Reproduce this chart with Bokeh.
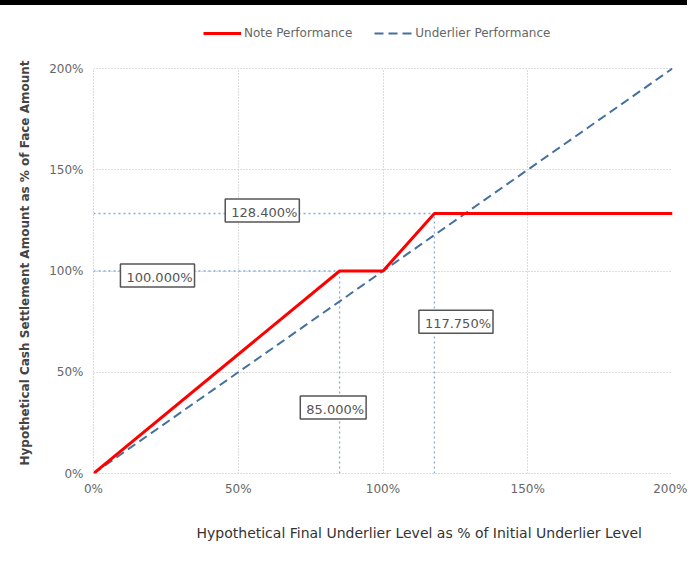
from bokeh.plotting import figure
from bokeh.layouts import column
from bokeh.models import (Label, Legend, LegendItem, FixedTicker, PrintfTickFormatter, Title, Div)
from bokeh.embed import file_html
from bokeh.resources import INLINE

# ---- data ----
note_x = [0, 85, 100, 117.75, 200]
note_y = [0, 100, 100, 128.4, 128.4]
under_x = [0, 200]
under_y = [0, 200]
ref_x = [85, 117.75]          # underlier levels marked
ref_y = [100, 128.4]          # note levels marked
x_ticks = [0, 50, 100, 150, 200]
y_ticks = [0, 50, 100, 150, 200]
series_names = ["Note Performance", "Underlier Performance"]

FONT = "DejaVu Sans"
GRID = "#b8b8b8"
REF = "#86acd9"
RED = "#ff0000"
BLUE = "#46709e"
W = 687
H = 559

# layout geometry (pixels inside the figure)
FRAME_TOP = 8           # frame top
PX_Y200 = 63            # pixel row of the 200% gridline
PX_Y0 = 468             # pixel row of the 0% line (frame bottom)
Y_MAX = y_ticks[-1]
y_end = Y_MAX * (PX_Y0 - FRAME_TOP) / (PX_Y0 - PX_Y200)

bar = Div(width=W, height=5, margin=0, styles={"background-color": "black"})

p = figure(width=W, height=H, x_range=(0, 200), y_range=(0, y_end),
           output_backend="svg", toolbar_location=None,
           min_border_left=92, min_border_right=15, min_border_top=FRAME_TOP,
           min_border_bottom=H - PX_Y0)
p.outline_line_color = None
p.background_fill_color = "white"
p.border_fill_color = "white"

for g in (p.xgrid, p.ygrid):
    g.grid_line_color = GRID
    g.grid_line_dash = "1 2"
    g.grid_line_width = 1
p.xaxis.ticker = FixedTicker(ticks=x_ticks)
p.yaxis.ticker = FixedTicker(ticks=y_ticks)
p.xgrid.ticker = FixedTicker(ticks=x_ticks)
p.ygrid.ticker = FixedTicker(ticks=y_ticks)
p.yaxis.bounds = (0, Y_MAX)
try:
    p.xgrid.cross_bounds = (0, Y_MAX)
except AttributeError:
    p.xgrid.visible = False
    p.segment(x0=x_ticks, y0=[0] * len(x_ticks), x1=x_ticks, y1=[Y_MAX] * len(x_ticks),
              line_color=GRID, line_dash="1 2", line_width=1)

for ax in (p.xaxis, p.yaxis):
    ax.formatter = PrintfTickFormatter(format="%d%%")
    ax.axis_line_color = GRID
    ax.axis_line_dash = "1 2"
    ax.major_tick_line_color = None
    ax.minor_tick_line_color = None
    ax.major_tick_out = 0
    ax.major_tick_in = 0
    ax.minor_tick_out = 0
    ax.major_label_text_font = FONT
    ax.major_label_text_font_size = "12px"
    ax.major_label_text_color = "#666666"

p.xaxis.major_label_standoff = 8
p.yaxis.major_label_standoff = 10

yt = Title(text="Hypothetical Cash Settlement Amount as % of Face Amount",
           align="left", offset=8, standoff=30, text_font=FONT, text_font_size="12px",
           text_font_style="bold", text_color="#444444")
p.add_layout(yt, "left")

xt = Title(text="Hypothetical Final Underlier Level as % of Initial Underlier Level",
           align="left", offset=103, standoff=48, text_font=FONT, text_font_size="14px",
           text_font_style="normal", text_color="#333333")
p.add_layout(xt, "below")

# reference lines
p.segment(x0=ref_x, y0=[0, 0], x1=ref_x, y1=ref_y, line_color=REF, line_dash="2 3", line_width=1.3)
p.segment(x0=[0, 0], y0=ref_y, x1=ref_x, y1=ref_y, line_color=REF, line_dash="2 3", line_width=1.3)

under = p.line(under_x, under_y, line_color=BLUE, line_width=2, line_dash="9 5")
note = p.line(note_x, note_y, line_color=RED, line_width=3)

legend = Legend(items=[LegendItem(label=series_names[0], renderers=[note]),
                       LegendItem(label=series_names[1], renderers=[under])],
                orientation="horizontal", location=(110, 430),
                label_text_font=FONT, label_text_font_size="12px", label_text_color="#666666",
                glyph_width=38, spacing=22, border_line_color=None, background_fill_alpha=0,
                margin=0, padding=5, label_standoff=3)
p.add_layout(legend, "center")

# boxed value labels (text from data values)
label_pos = [
    (ref_y[1], 58.3, 129.9),
    (ref_y[0], 22.1, 97.8),
    (ref_x[0], 82.8, 32.6),
    (ref_x[1], 125.2, 75.0),
]
for val, lx, ly in label_pos:
    p.add_layout(Label(x=lx, y=ly, text=f"{val:.3f}%", text_align="center", text_baseline="middle",
                       text_font=FONT, text_font_size="13px", text_color="#555555",
                       background_fill_color="white", border_line_color="#555555",
                       border_line_width=1.5, padding=(6, 2, 6, 2)))

layout = column(bar, p, spacing=0)
open("out.html", "w").write(file_html(layout, INLINE))
